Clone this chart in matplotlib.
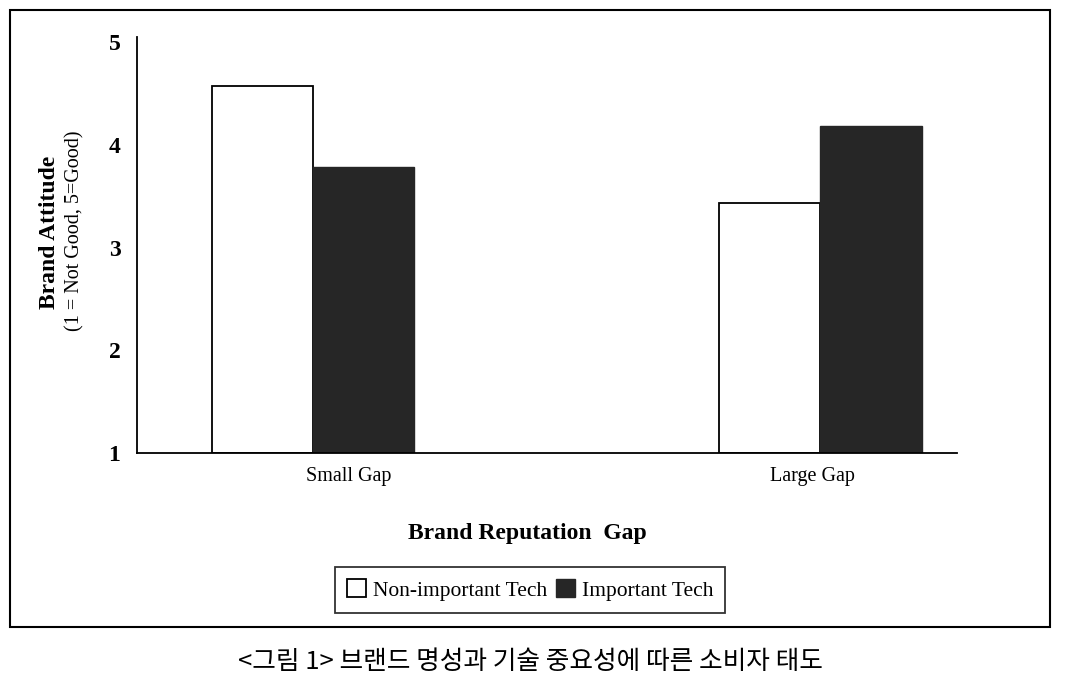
import matplotlib.pyplot as plt
import numpy as np
from matplotlib.patches import Rectangle

plt.rcParams['font.family'] = ['Liberation Serif', 'DejaVu Serif']

categories = ['Small Gap', 'Large Gap']
non_important = [4.57, 3.43]
important = [3.78, 4.18]
series_names = ['Non-important Tech', 'Important Tech']

fig = plt.figure(figsize=(10.71, 6.86), dpi=100)
ax = fig.add_axes([137 / 1071, 1 - 453 / 686, 820 / 1071, 416 / 686])

x = np.arange(len(categories))
w = 0.2
b1 = ax.bar(x - w / 2, np.array(non_important) - 1, w, bottom=1, color='white',
            edgecolor='black', linewidth=1.3, label=series_names[0])
b2 = ax.bar(x + w / 2, np.array(important) - 1, w, bottom=1, color='#262626',
            edgecolor='#262626', linewidth=1.0, label=series_names[1])

ax.set_xlim(-0.347, 1.27)
ax.set_ylim(1, 5.05)
ax.set_yticks([1, 2, 3, 4, 5])
ax.set_yticklabels(['1', '2', '3', '4', '5'], fontweight='bold', fontsize=17)
ax.set_xticks([0.07, 0.985])
ax.set_xticklabels(categories, fontsize=14.5)
ax.tick_params(length=0, pad=10)
ax.tick_params(axis='y', pad=12)
for s in ['top', 'right']:
    ax.spines[s].set_visible(False)
for s in ['left', 'bottom']:
    ax.spines[s].set_linewidth(1.3)

fig.text(527 / 1071, 1 - 533 / 686, 'Brand Reputation  Gap', fontsize=17,
         fontweight='bold', ha='center', va='center')
fig.text(50 / 1071, 1 - 232 / 686, 'Brand Attitude', fontsize=17,
         fontweight='bold', rotation=90, ha='center', va='center')
fig.text(75 / 1071, 1 - 231 / 686, '(1 = Not Good, 5=Good)', fontsize=14.5,
         rotation=90, ha='center', va='center')

fig.legend(handles=[b1, b2], loc='center', bbox_to_anchor=(530 / 1071, 1 - 590 / 686),
           ncol=2, frameon=True, fancybox=False, edgecolor='black', fontsize=15.5,
           handlelength=0.9, handleheight=0.9, handletextpad=0.3, columnspacing=0.4,
           borderpad=0.55).get_frame().set_linewidth(1.3)

fig.add_artist(Rectangle((10 / 1071, 1 - 627 / 686), 1040 / 1071, 617 / 686,
                         transform=fig.transFigure, fill=False, edgecolor='black',
                         linewidth=1.5))

fig.text(530 / 1071, 1 - 662 / 686, '<그림 1> 브랜드 명성과 기술 중요성에 따른 소비자 태도',
         fontsize=18.5, ha='center', va='center',
         family=['Noto Sans CJK KR', 'DejaVu Sans'])

fig.savefig('out.png', dpi=100)
